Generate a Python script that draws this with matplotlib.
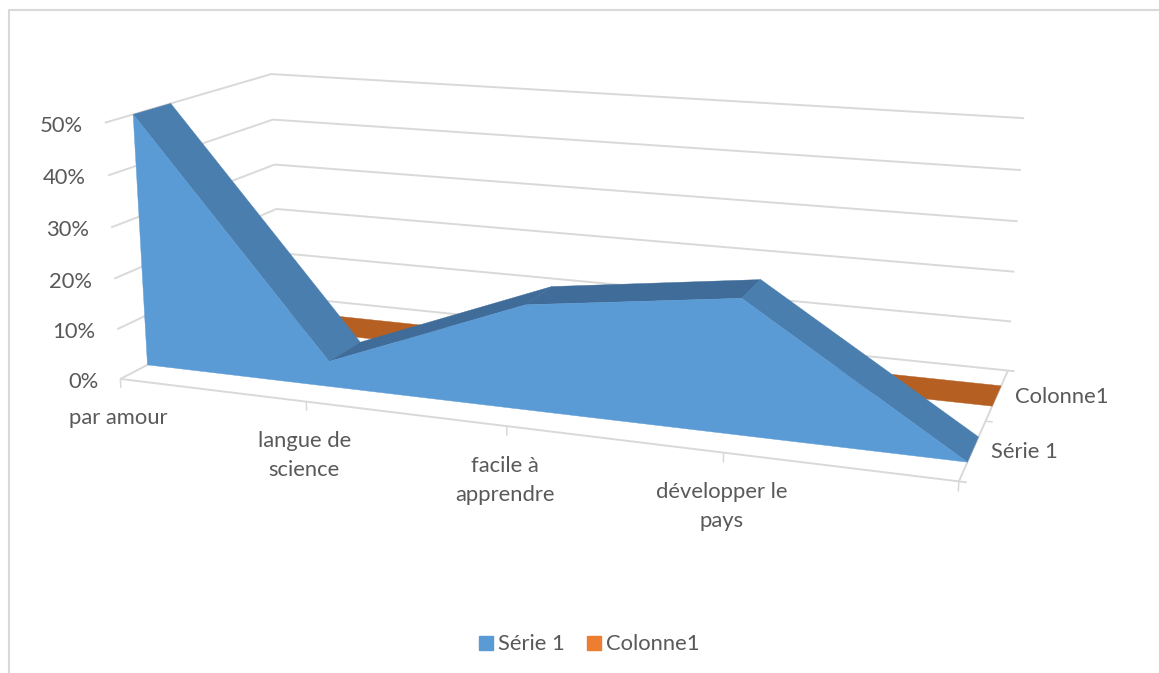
import numpy as np
import matplotlib
matplotlib.use("Agg")
import matplotlib.pyplot as plt
from matplotlib.patches import Patch

categories = ["par amour", "langue de\nscience", "facile à\napprendre", "développer le\npays", ""]
serie1 = [0.50, 0.05, 0.20, 0.25, 0.0]
colonne1 = [0.0, 0.0, 0.0, 0.0, 0.0]
value_ticks = [0.0, 0.1, 0.2, 0.3, 0.4, 0.5]
series_names = ["Série 1", "Colonne1"]

W, H = 1159, 673
GRID = "#D9D9D9"
TXT = "#595959"
FS = 15.8
plt.rcParams["font.family"] = ["Lato", "DejaVu Sans"]

# 3D-chart camera: (category 0-1, depth 0-1, value 0-0.5) -> figure pixels, fitted from the frame corners
world = [(0,0,0),(1,0,0),(1,1,0),(0,1,0),(0,0,.5),(0,1,.5),(1,1,.5)]
pix = [(121,379),(959,481),(1008,371),(279,296),(104,123),(272,74),(1024,118)]
rows, rhs = [], []
for (x,d,z),(u,v) in zip(world,pix):
    rows.append([x,d,z,1,0,0,0,0,-u*x,-u*d,-u*z]); rhs.append(u)
    rows.append([0,0,0,0,x,d,z,1,-v*x,-v*d,-v*z]); rhs.append(v)
sol = np.linalg.lstsq(np.array(rows,float),np.array(rhs,float),rcond=None)[0]
P = np.append(sol,1).reshape(3,4)

def proj(x,d,z):
    p = P @ np.array([x,d,z,1.0])
    return p[0]/p[2], p[1]/p[2]

fig = plt.figure(figsize=(W/100,H/100),dpi=100)
ax = fig.add_axes([0,0,1,1])
ax.set_xlim(0,W); ax.set_ylim(H,0); ax.axis("off")

def line(pts,lw=1.4,z=1):
    ax.plot(*zip(*pts),color=GRID,lw=lw,zorder=z,solid_capstyle="butt")

# chart frame
line([(8.5,H),(8.5,10),(W,10)],lw=1.5)

# walls
for t in value_ticks:
    line([proj(0,0,t),proj(0,1,t),proj(1.008 if t==0 else 1,1,t)])
    xl,yl = proj(0,0,t)
    ax.text(xl-22,yl+3,f"{t:.0%}",ha="right",va="center",fontsize=FS,color=TXT)
# floor
line([proj(0,0,0),proj(1.008,0,0)])
line([proj(1,0,0),proj(1,1,0)])
n = len(categories)
xs = np.arange(n)/(n-1)
for x,lab in zip(xs,categories):
    tx,ty = proj(x,0,0)
    line([(tx,ty),proj(x,0,-0.018)],lw=1.1)
    if lab:
        ax.text(tx-2,ty+29.5,lab,ha="center",va="top",fontsize=FS,color=TXT,linespacing=1.56)
line([proj(1,.5,0),proj(1.008,.5,0)],lw=1.1)
for dc,name in zip([.25,.75],series_names):
    tx,ty = proj(1,dc,0)
    ax.text(tx+18,ty+2,name,ha="left",va="center",fontsize=FS,color=TXT)

def band(vals,d0,d1,front,desc,asc):
    for i in range(len(vals)-1):
        c = desc if vals[i+1]<=vals[i] else asc
        quad = [proj(xs[i],d0,vals[i]),proj(xs[i+1],d0,vals[i+1]),proj(xs[i+1],d1,vals[i+1]),proj(xs[i],d1,vals[i])]
        ax.fill(*zip(*quad),color=c,lw=0.3,zorder=3)
    if max(vals)>0:
        poly = [proj(x,d0,v) for x,v in zip(xs,vals)]+[proj(1,d0,0),proj(0,d0,0)]
        ax.fill(*zip(*poly),color=front,lw=0.3,zorder=4)

band(colonne1,.64,.84,"#B55F22","#B55F22","#B55F22")
band(serie1,.15,.36,"#5B9BD5","#4A7EAF","#3F6C98")

handles = [Patch(color="#5B9BD5",label=series_names[0]),Patch(color="#ED7D31",label=series_names[1])]
fig.legend(handles=handles,loc="center",bbox_to_anchor=(589/W,1-644.5/H),ncol=2,frameon=False,
           fontsize=FS,labelcolor=TXT,handlelength=0.64,handleheight=0.64,handletextpad=0.23,columnspacing=1.0)

fig.savefig("out.png",dpi=100)
